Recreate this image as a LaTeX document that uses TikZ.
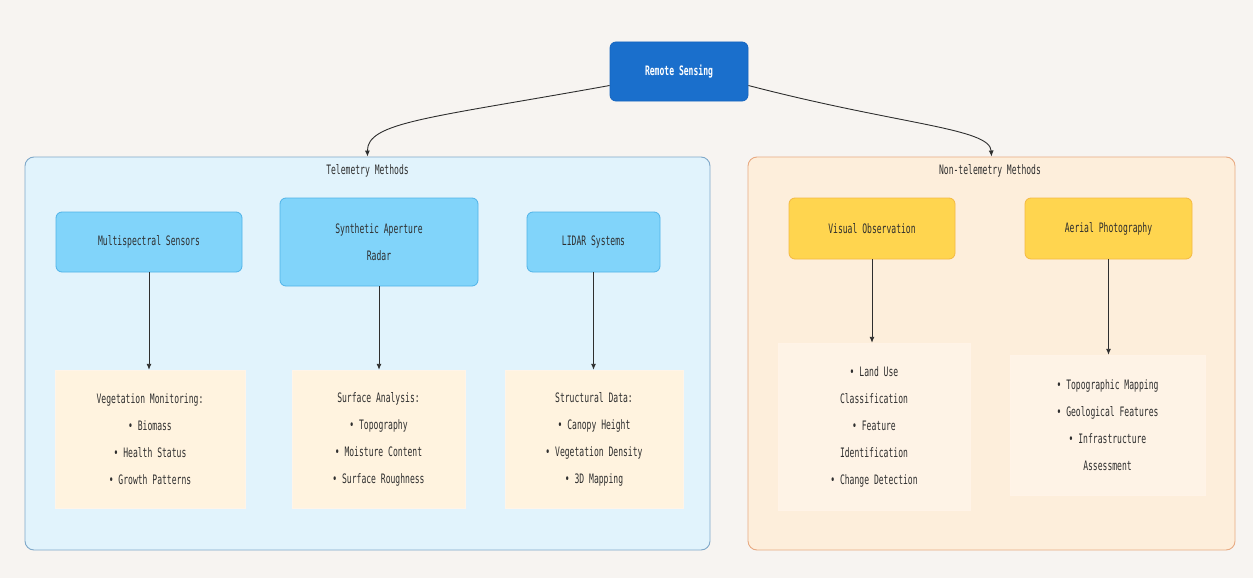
\documentclass[tikz,border=0pt]{standalone}
\usepackage{fontspec}
\usetikzlibrary{arrows.meta}
\newfontfamily\diagmono[FakeStretch=0.62]{DejaVu Sans Mono}
\definecolor{bgc}{HTML}{F7F4F1}
\definecolor{rsfill}{HTML}{1A6FCC}
\definecolor{rsline}{HTML}{1565C0}
\definecolor{telfill}{HTML}{E1F3FC}
\definecolor{telline}{HTML}{7FA8C9}
\definecolor{nonfill}{HTML}{FDEEDB}
\definecolor{nonline}{HTML}{E8AA82}
\definecolor{bluefill}{HTML}{81D4FA}
\definecolor{blueline}{HTML}{4FB3E8}
\definecolor{creamfill}{HTML}{FFF3DF}
\definecolor{yelfill}{HTML}{FFD54F}
\definecolor{yelline}{HTML}{F4B942}
\definecolor{rboxfill}{HTML}{FEF3E6}
\definecolor{txt}{HTML}{2E2E2E}
\tikzset{
  every node/.style={font=\diagmono\fontsize{13}{27}\selectfont, text=txt, inner sep=0pt},
  cluster/.style={draw, line width=0.9pt, rounded corners=9pt},
  rsbox/.style={fill=rsfill, draw=rsline, line width=0.8pt, rounded corners=6pt, text=white, font=\diagmono\bfseries\fontsize{13}{14}\selectfont},
  bluebox/.style={fill=bluefill, draw=blueline, line width=0.8pt, rounded corners=6pt, align=center},
  yelbox/.style={fill=yelfill, draw=yelline, line width=0.8pt, rounded corners=6pt, align=center},
  infobox/.style={fill=creamfill, draw=creamfill!80!orange!30, line width=0.4pt, align=center},
  rinfobox/.style={fill=rboxfill, draw=rboxfill!85!orange!40, line width=0.4pt, align=center},
  conn/.style={draw=txt, line width=0.9pt, -{Latex[length=6pt,width=5pt]}},
  clabel/.style={font=\diagmono\fontsize{13}{14}\selectfont},
}
\begin{document}
\begin{tikzpicture}[x=1pt,y=-1pt]
\useasboundingbox (0,0) rectangle (1253,578);
\fill[bgc] (0,0) rectangle (1253,578);

% clusters
\node[cluster, fill=telfill, draw=telline, minimum width=685pt, minimum height=393pt] (tel) at (367.5,353.5) {};
\node[cluster, fill=nonfill, draw=nonline, minimum width=487pt, minimum height=393pt] (non) at (991.5,353.5) {};
\node[clabel] (tellab) at (367.5,171) {Telemetry Methods};
\node[clabel] (nonlab) at (990,171) {Non-telemetry Methods};

% root
\node[rsbox, minimum width=138pt, minimum height=59pt] (rs) at (679,71.5) {Remote Sensing};

% telemetry nodes
\node[bluebox, minimum width=186pt, minimum height=60pt] (ms) at (149,242) {Multispectral Sensors};
\node[bluebox, minimum width=198pt, minimum height=88pt] (sar) at (379,242) {Synthetic Aperture\\Radar};
\node[bluebox, minimum width=133pt, minimum height=60pt] (lidar) at (593.5,242) {LIDAR Systems};

\node[infobox, minimum width=190pt, minimum height=138pt] (veg) at (150,439) {Vegetation Monitoring:\\• Biomass\\• Health Status\\• Growth Patterns};
\node[infobox, minimum width=173pt, minimum height=138pt] (surf) at (378.5,439) {Surface Analysis:\\• Topography\\• Moisture Content\\• Surface Roughness};
\node[infobox, minimum width=178pt, minimum height=138pt] (struct) at (594,439) {Structural Data:\\• Canopy Height\\• Vegetation Density\\• 3D Mapping};

% non-telemetry nodes
\node[yelbox, minimum width=166pt, minimum height=61pt] (vis) at (872,228.5) {Visual Observation};
\node[yelbox, minimum width=167pt, minimum height=61pt] (aer) at (1108.5,228.5) {Aerial Photography};

\node[rinfobox, minimum width=192pt, minimum height=167pt] (land) at (874,426.5) {• Land Use\\Classification\\• Feature\\Identification\\• Change Detection};
\node[rinfobox, minimum width=195pt, minimum height=140pt] (topo) at (1107.5,425) {• Topographic Mapping\\• Geological Features\\• Infrastructure\\Assessment};

% connectors
\draw[conn] ([yshift=-14pt]rs.west) .. controls (430,118) and (367,122) .. (tel.north);
\draw[conn] ([yshift=-14pt]rs.east) .. controls (900,125) and (990,128) .. (non.north);
\draw[conn] (ms.south) -- (veg.north -| ms.south);
\draw[conn] (sar.south) -- (surf.north -| sar.south);
\draw[conn] (lidar.south) -- (struct.north -| lidar.south);
\draw[conn] (vis.south) -- (land.north -| vis.south);
\draw[conn] (aer.south) -- (topo.north -| aer.south);
\end{tikzpicture}
\end{document}
